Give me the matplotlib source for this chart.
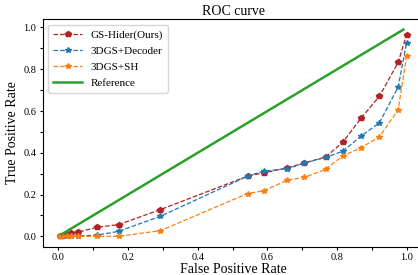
import numpy as np
import matplotlib
matplotlib.use("Agg")
import matplotlib.pyplot as plt
from matplotlib.ticker import MultipleLocator

plt.rcParams['font.family'] = ['Liberation Serif', 'DejaVu Serif']

# ROC points (shared false positive rates)
fpr = [0.005, 0.012, 0.024, 0.036, 0.057, 0.110, 0.173, 0.293, 0.543,
       0.589, 0.657, 0.706, 0.767, 0.816, 0.869, 0.921, 0.975, 0.999]
tpr_hider = [0.000, 0.004, 0.009, 0.015, 0.020, 0.043, 0.056, 0.128, 0.288,
             0.304, 0.328, 0.351, 0.380, 0.450, 0.567, 0.670, 0.833, 0.965]
tpr_decoder = [0.000, 0.000, 0.001, 0.002, 0.003, 0.005, 0.024, 0.096, 0.288,
               0.312, 0.324, 0.351, 0.378, 0.407, 0.481, 0.543, 0.715, 0.925]
tpr_sh = [0.000, 0.000, 0.000, 0.000, 0.000, 0.000, 0.000, 0.027, 0.205,
          0.218, 0.269, 0.282, 0.321, 0.385, 0.425, 0.476, 0.606, 0.862]
ref_x = [0.01, 0.99]
ref_y = [0.01, 0.99]

fig = plt.figure(figsize=(4.18, 2.75), dpi=100)
ax = fig.add_axes([0.102, 0.103, 0.912, 0.827])

ax.plot(fpr, tpr_hider, '--', color='#b22222', marker='p', markersize=3.8,
        linewidth=0.9, label='GS-Hider(Ours)')
ax.plot(fpr, tpr_decoder, '--', color='#1f77b4', marker='*', markersize=4.2,
        linewidth=0.9, label='3DGS+Decoder')
ax.plot(fpr, tpr_sh, '--', color='#ff7f0e', marker='*', markersize=4.2,
        linewidth=0.9, label='3DGS+SH')
ax.plot(ref_x, ref_y, '-', color='#2ca02c', linewidth=1.8, label='Reference')

ax.set_title('ROC curve', fontsize=10, pad=3)
ax.set_xlabel('False Positive Rate', fontsize=10, labelpad=1)
ax.set_ylabel('True Positive Rate', fontsize=10, labelpad=3)

ax.xaxis.set_major_locator(MultipleLocator(0.2))
ax.xaxis.set_minor_locator(MultipleLocator(0.1))
ax.yaxis.set_major_locator(MultipleLocator(0.2))
ax.yaxis.set_minor_locator(MultipleLocator(0.1))
ax.tick_params(which='both', length=2.5, width=0.8, labelsize=7.5, pad=2)

ax.legend(loc='upper left', fontsize=8, handlelength=2.6, borderpad=0.45,
          labelspacing=0.55, framealpha=0.8)

fig.savefig('out.png', dpi=100)
